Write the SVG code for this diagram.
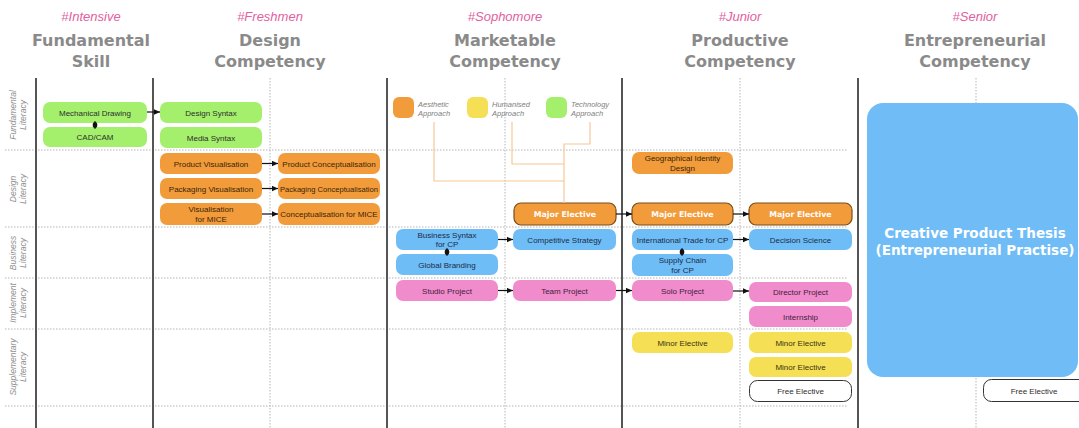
<svg xmlns="http://www.w3.org/2000/svg" width="1079" height="428" viewBox="0 0 1079 428">
<defs>
<marker id="ah" viewBox="0 0 6 6" refX="6" refY="3" markerWidth="6" markerHeight="6" markerUnits="userSpaceOnUse" orient="auto">
<path d="M0,0.3 L6,3 L0,5.7 Z" fill="#111"/>
</marker>
<style>
.tag{font-family:"Liberation Sans",Arial,sans-serif;font-style:italic;font-size:13px;fill:#e2609f;text-anchor:middle}
.hdr{font-family:"DejaVu Sans",Verdana,sans-serif;font-weight:bold;font-size:16px;fill:#8a8a8a;text-anchor:middle}
.row{font-family:"Liberation Sans",Arial,sans-serif;font-style:italic;font-size:8.5px;fill:#8e8e8e;text-anchor:middle}
.leg{font-family:"Liberation Sans",Arial,sans-serif;font-style:italic;font-size:7.5px;fill:#7e7e7e}
.solid{stroke:#555;stroke-width:2}
.dot{stroke:#b5b5b5;stroke-width:1;stroke-dasharray:1.5 1.5}
.n text{font-family:"Liberation Sans",Arial,sans-serif;font-size:8px;fill:#2e2e2e;text-anchor:middle}
.g rect{fill:#a4f06c}
.o rect{fill:#f29b3b}
.o text{fill:#3a2508}
.b rect{fill:#6ebdf6}
.b text{fill:#1c2c48}
.p rect{fill:#f08ccc}
.p text{fill:#44203a}
.y rect{fill:#f5df55}
.y text{fill:#3a3410}
.w rect{fill:#fff;stroke:#333;stroke-width:1}
.me rect{fill:#f29b3b;stroke:#7a4d18;stroke-width:1.2}
.me text{font-family:"DejaVu Sans",Verdana,sans-serif;font-weight:bold;font-size:7.8px;fill:#fff}
.th text{font-family:"DejaVu Sans",Verdana,sans-serif;font-weight:bold;font-size:13.5px;fill:#fff;text-anchor:middle}
.arr{stroke:#111;stroke-width:1.2;fill:none;marker-end:url(#ah)}
.lg{stroke:#f7c898;stroke-width:1.2;fill:none}
</style>
</defs>
<rect width="1079" height="428" fill="#fff"/>

<g id="headers">
<text class="tag" x="91" y="21">#Intensive</text>
<text class="hdr" x="91" y="46">Fundamental</text>
<text class="hdr" x="91" y="67">Skill</text>
<text class="tag" x="270" y="21">#Freshmen</text>
<text class="hdr" x="270" y="46">Design</text>
<text class="hdr" x="270" y="67">Competency</text>
<text class="tag" x="505" y="21">#Sophomore</text>
<text class="hdr" x="505" y="46">Marketable</text>
<text class="hdr" x="505" y="67">Competency</text>
<text class="tag" x="740" y="21">#Junior</text>
<text class="hdr" x="740" y="46">Productive</text>
<text class="hdr" x="740" y="67">Competency</text>
<text class="tag" x="975" y="21">#Senior</text>
<text class="hdr" x="975" y="46">Entrepreneurial</text>
<text class="hdr" x="975" y="67">Competency</text>
</g>

<g id="grid">
<line class="dot" x1="5" y1="150" x2="848" y2="150"/>
<line class="dot" x1="5" y1="227" x2="848" y2="227"/>
<line class="dot" x1="5" y1="278" x2="848" y2="278"/>
<line class="dot" x1="5" y1="329" x2="848" y2="329"/>
<line class="dot" x1="5" y1="406" x2="848" y2="406"/>
<line class="dot" x1="270" y1="78" x2="270" y2="428"/>
<line class="dot" x1="505" y1="78" x2="505" y2="428"/>
<line class="dot" x1="740" y1="78" x2="740" y2="428"/>
<line class="dot" x1="976" y1="78" x2="976" y2="428"/>
<line class="solid" x1="36" y1="78" x2="36" y2="428"/>
<line class="solid" x1="153" y1="78" x2="153" y2="428"/>
<line class="solid" x1="387" y1="78" x2="387" y2="428"/>
<line class="solid" x1="622" y1="78" x2="622" y2="428"/>
<line class="solid" x1="858" y1="78" x2="858" y2="428"/>
</g>

<g id="row-labels">
<g transform="translate(18,115) rotate(-90)"><text class="row" x="0" y="-2">Fundamental</text><text class="row" x="0" y="8">Literacy</text></g>
<g transform="translate(18,189) rotate(-90)"><text class="row" x="0" y="-2">Design</text><text class="row" x="0" y="8">Literacy</text></g>
<g transform="translate(18,253) rotate(-90)"><text class="row" x="0" y="-2">Business</text><text class="row" x="0" y="8">Literacy</text></g>
<g transform="translate(18,303) rotate(-90)"><text class="row" x="0" y="-2">Implement</text><text class="row" x="0" y="8">Literacy</text></g>
<g transform="translate(18,367) rotate(-90)"><text class="row" x="0" y="-2">Supplementary</text><text class="row" x="0" y="8">Literacy</text></g>
</g>

<g id="legend">
<rect x="393" y="97" width="21" height="21" rx="6" fill="#f29b3b"/>
<text class="leg" x="418" y="107">Aesthetic</text><text class="leg" x="418" y="116">Approach</text>
<rect x="467" y="97" width="21" height="21" rx="6" fill="#f5df55"/>
<text class="leg" x="492" y="107">Humanised</text><text class="leg" x="492" y="116">Approach</text>
<rect x="546" y="97" width="21" height="21" rx="6" fill="#a4f06c"/>
<text class="leg" x="571" y="107">Technology</text><text class="leg" x="571" y="116">Approach</text>
</g>

<g id="n-mechanical-drawing" class="n g"><rect x="43" y="102" width="104" height="21" rx="7"/><text x="95" y="115.5">Mechanical Drawing</text></g>
<g id="n-cadcam" class="n g"><rect x="43" y="127" width="104" height="20" rx="7"/><text x="95" y="140">CAD/CAM</text></g>
<g id="n-design-syntax" class="n g"><rect x="160" y="102" width="102" height="21" rx="7"/><text x="211" y="115.5">Design Syntax</text></g>
<g id="n-media-syntax" class="n g"><rect x="160" y="127" width="102" height="21" rx="7"/><text x="211" y="140.5">Media Syntax</text></g>

<g id="n-product-vis" class="n o"><rect x="160" y="153" width="102" height="21" rx="7"/><text x="211" y="166.5">Product Visualisation</text></g>
<g id="n-product-con" class="n o"><rect x="278" y="153" width="102" height="21" rx="7"/><text x="329" y="166.5">Product Conceptualisation</text></g>
<g id="n-packaging-vis" class="n o"><rect x="160" y="178" width="102" height="21" rx="7"/><text x="211" y="191.5">Packaging Visualisation</text></g>
<g id="n-packaging-con" class="n o"><rect x="278" y="178" width="102" height="21" rx="7"/><text x="329" y="191.5" style="font-size:7.6px">Packaging Conceptualisation</text></g>
<g id="n-vis-mice" class="n o"><rect x="160" y="203" width="102" height="22" rx="7"/><text x="211" y="212">Visualisation</text><text x="211" y="221.5">for MICE</text></g>
<g id="n-con-mice" class="n o"><rect x="278" y="203" width="102" height="22" rx="7"/><text x="329" y="217">Conceptualisation for MICE</text></g>

<g id="n-major-elective-1" class="n me"><rect x="514" y="203" width="102" height="22" rx="7"/><text x="565" y="217">Major Elective</text></g>
<g id="n-business-syntax" class="n b"><rect x="396" y="229" width="102" height="21" rx="7"/><text x="447" y="237.5">Business Syntax</text><text x="447" y="246.5">for CP</text></g>
<g id="n-global-branding" class="n b"><rect x="396" y="254" width="102" height="21" rx="7"/><text x="447" y="267.5">Global Branding</text></g>
<g id="n-competitive-strategy" class="n b"><rect x="513" y="229" width="103" height="21" rx="7"/><text x="564.5" y="242.5">Competitive Strategy</text></g>
<g id="n-studio-project" class="n p"><rect x="396" y="280" width="102" height="21" rx="7"/><text x="447" y="293.5">Studio Project</text></g>
<g id="n-team-project" class="n p"><rect x="513" y="280" width="103" height="21" rx="7"/><text x="564.5" y="293.5">Team Project</text></g>

<g id="n-geo-identity" class="n o"><rect x="632" y="152" width="101" height="22" rx="7"/><text x="682.5" y="161">Geographical Identity</text><text x="682.5" y="170.5">Design</text></g>
<g id="n-major-elective-2" class="n me"><rect x="632" y="203" width="101" height="22" rx="7"/><text x="682.5" y="217">Major Elective</text></g>
<g id="n-major-elective-3" class="n me"><rect x="749" y="203" width="103" height="22" rx="7"/><text x="800.5" y="217">Major Elective</text></g>
<g id="n-intl-trade" class="n b"><rect x="632" y="229" width="101" height="21" rx="7"/><text x="682.5" y="242.5">International Trade for CP</text></g>
<g id="n-decision-science" class="n b"><rect x="749" y="229" width="103" height="21" rx="7"/><text x="800.5" y="242.5">Decision Science</text></g>
<g id="n-supply-chain" class="n b"><rect x="632" y="254" width="101" height="22" rx="7"/><text x="682.5" y="263">Supply Chain</text><text x="682.5" y="272.5">for CP</text></g>
<g id="n-solo-project" class="n p"><rect x="632" y="280" width="101" height="21" rx="7"/><text x="682.5" y="293.5">Solo Project</text></g>
<g id="n-director-project" class="n p"><rect x="749" y="282" width="103" height="20" rx="7"/><text x="800.5" y="295">Director Project</text></g>
<g id="n-internship" class="n p"><rect x="749" y="306" width="103" height="21" rx="7"/><text x="800.5" y="319.5">Internship</text></g>
<g id="n-minor-elective-1" class="n y"><rect x="632" y="332" width="101" height="21" rx="7"/><text x="682.5" y="345.5">Minor Elective</text></g>
<g id="n-minor-elective-2" class="n y"><rect x="749" y="332" width="103" height="21" rx="7"/><text x="800.5" y="345.5">Minor Elective</text></g>
<g id="n-minor-elective-3" class="n y"><rect x="749" y="357" width="103" height="20" rx="7"/><text x="800.5" y="370">Minor Elective</text></g>
<g id="n-free-elective-1" class="n w"><rect x="749.5" y="380.5" width="102" height="21" rx="8"/><text x="800.5" y="394">Free Elective</text></g>

<g id="n-thesis" class="n th"><rect x="867" y="103" width="211" height="274" rx="16" fill="#70bcf6"/><text x="975" y="238">Creative Product Thesis</text><text x="975" y="255">(Entrepreneurial Practise)</text></g>
<g id="n-free-elective-2" class="n w"><rect x="983.5" y="379.5" width="110" height="22" rx="8"/><text x="1034" y="393.5">Free Elective</text></g>

<g id="connectors">
<path class="lg" d="M434,122 V181 H564"/>
<path class="lg" d="M512,122 V164 H564"/>
<path class="lg" d="M590,122 V144 H564 V203"/>
<line class="arr" x1="147" y1="112" x2="160" y2="112"/>
<line class="arr" x1="262" y1="163.5" x2="278" y2="163.5"/>
<line class="arr" x1="262" y1="188.5" x2="278" y2="188.5"/>
<line class="arr" x1="262" y1="214" x2="278" y2="214"/>
<line class="arr" x1="616" y1="214" x2="632" y2="214"/>
<line class="arr" x1="733" y1="214" x2="749" y2="214"/>
<line class="arr" x1="498" y1="239.5" x2="513" y2="239.5"/>
<line class="arr" x1="733" y1="239.5" x2="749" y2="239.5"/>
<line class="arr" x1="498" y1="290.5" x2="513" y2="290.5"/>
<line class="arr" x1="616" y1="290.5" x2="632" y2="290.5"/>
<line class="arr" x1="733" y1="291" x2="749" y2="291"/>
<line x1="95" y1="121" x2="95" y2="129" stroke="#111" stroke-width="1"/>
<ellipse cx="95" cy="125" rx="2.3" ry="3" fill="#111"/>
<line x1="447" y1="248" x2="447" y2="256" stroke="#111" stroke-width="1"/>
<ellipse cx="447" cy="252" rx="2.3" ry="3" fill="#111"/>
<line x1="682" y1="248" x2="682" y2="256" stroke="#111" stroke-width="1"/>
<ellipse cx="682" cy="252" rx="2.3" ry="3" fill="#111"/>
</g>
</svg>
